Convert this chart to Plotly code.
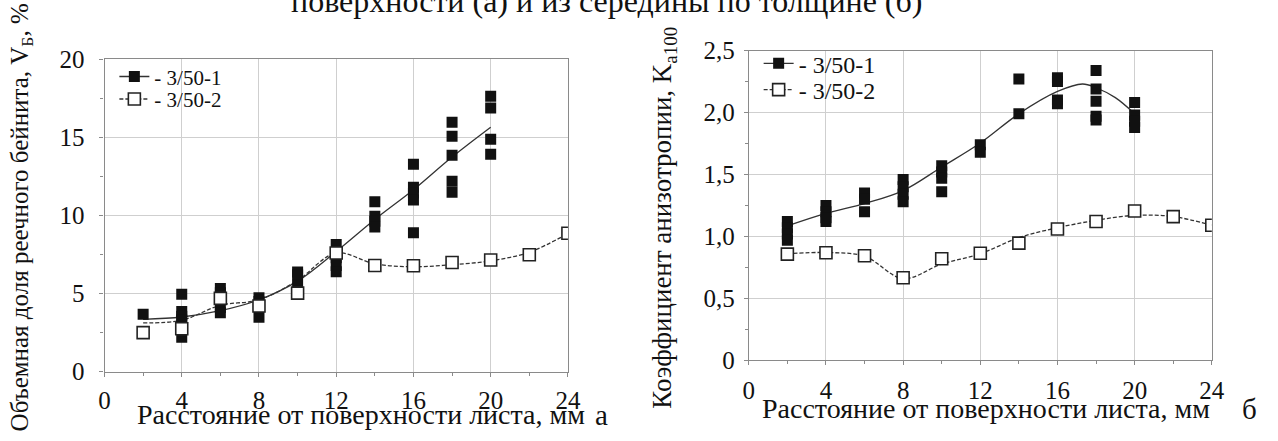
import plotly.graph_objects as go

W, H = 1278, 441
SERIF = "Liberation Serif"

# ---------- panel (а): bainite volume fraction ----------
a_x1 = [2, 4, 4, 4, 4, 4, 6, 6, 6, 6, 8, 8, 8, 10, 10, 10,
        12, 12, 12, 12, 14, 14, 14, 14, 16, 16, 16, 16, 16,
        18, 18, 18, 18, 18, 20, 20, 20, 20]
a_y1 = [3.67, 4.96, 3.85, 3.55, 3.3, 2.2, 5.33, 5.05, 4.1, 3.77, 4.73, 4.5, 3.49,
        6.38, 6.2, 5.53, 8.14, 7.3, 6.8, 6.4, 10.89, 9.95, 9.64, 9.26,
        13.29, 11.81, 11.45, 10.99, 8.89, 15.98, 15.08, 13.86, 12.2, 11.5,
        17.65, 16.89, 14.89, 13.92]
a_x2 = [2, 4, 6, 8, 10, 12, 14, 16, 18, 20, 22, 24]
a_y2 = [2.5, 2.75, 4.69, 4.2, 5.03, 7.6, 6.8, 6.78, 6.99, 7.15, 7.49, 8.87]
# fitted curves
a_fit1_x = [2, 4, 6, 8, 10, 12, 14, 16, 18, 20]
a_fit1_y = [3.35, 3.5, 3.9, 4.6, 5.8, 7.7, 9.75, 11.65, 13.75, 15.66]
a_fit2_x = [2, 4, 6, 8, 10, 12, 14, 16, 18, 20, 22, 24]
a_fit2_y = [3.12, 3.29, 4.25, 4.6, 5.85, 7.6, 6.9, 6.72, 6.85, 7.1, 7.65, 8.85]

# ---------- panel (б): anisotropy coefficient ----------
b_x1 = [2, 2, 2, 2, 4, 4, 4, 4, 6, 6, 6, 8, 8, 8, 8, 10, 10, 10, 10,
        12, 12, 14, 14, 16, 16, 16, 16, 18, 18, 18, 18, 18, 20, 20, 20, 20]
b_y1 = [1.12, 1.07, 1.02, 0.97, 1.25, 1.2, 1.15, 1.12, 1.35, 1.3, 1.2,
        1.46, 1.4, 1.34, 1.28, 1.57, 1.52, 1.47, 1.36, 1.74, 1.68,
        2.27, 1.99, 2.28, 2.25, 2.10, 2.07, 2.34, 2.19, 2.09, 1.97, 1.94,
        2.08, 1.98, 1.93, 1.88]
b_x2 = [2, 4, 6, 8, 10, 12, 14, 16, 18, 20, 22, 24]
b_y2 = [0.857, 0.868, 0.844, 0.666, 0.82, 0.864, 0.946, 1.06, 1.12, 1.205, 1.16, 1.09]
b_fit1_x = [2, 4, 6, 8, 10, 12, 14, 16, 17.3, 18, 19, 20]
b_fit1_y = [1.085, 1.186, 1.265, 1.37, 1.56, 1.754, 1.99, 2.17, 2.23, 2.2, 2.12, 1.99]
b_fit2_x = [2, 4, 6, 8, 10, 12, 14, 16, 18, 20, 22, 24]
b_fit2_y = [0.86, 0.87, 0.84, 0.66, 0.777, 0.86, 0.99, 1.07, 1.13, 1.17, 1.16, 1.09]

x_ticks = [0, 4, 8, 12, 16, 20, 24]
a_yticks = [0, 5, 10, 15, 20]
b_yticks = [0, 0.5, 1.0, 1.5, 2.0, 2.5]
b_yticklabels = ["0", "0,5", "1,0", "1,5", "2,0", "2,5"]
legend_names = ["- 3/50-1", "- 3/50-2"]


def px(x):
    return x / W


def py(y):
    return 1 - y / H


FILL = "#111111"
LINE = "#333333"
INK = "#111111"
sq_filled = dict(symbol="square", size=11, color=FILL, line=dict(width=0))
sq_open = dict(symbol="square", size=12, color="white", line=dict(width=1.6, color="#222222"))

fig = go.Figure()


def add_panel(xa, ya, legends, x1, y1, x2, y2, f1x, f1y, f2x, f2y):
    ax = dict(xaxis=xa, yaxis=ya)
    fig.add_trace(go.Scatter(x=f1x, y=f1y, mode="lines", line=dict(color=LINE, width=1.3, shape="spline"),
                             showlegend=False, hoverinfo="skip", **ax))
    fig.add_trace(go.Scatter(x=f2x, y=f2y, mode="lines",
                             line=dict(color=LINE, width=1.3, shape="spline", dash="4px,2px"),
                             showlegend=False, hoverinfo="skip", **ax))
    fig.add_trace(go.Scatter(x=x1, y=y1, mode="markers", marker=sq_filled, showlegend=False, **ax))
    fig.add_trace(go.Scatter(x=x2, y=y2, mode="markers", marker=sq_open, showlegend=False, **ax))
    # legend entries, one legend box per row for tight spacing
    fig.add_trace(go.Scatter(x=[None], y=[None], mode="lines+markers", name=legend_names[0],
                             line=dict(color=LINE, width=1.3), marker=sq_filled, legend=legends[0], **ax))
    fig.add_trace(go.Scatter(x=[None], y=[None], mode="lines+markers", name=legend_names[1],
                             line=dict(color=LINE, width=1.3, dash="4px,2px"),
                             marker=sq_open, legend=legends[1], **ax))


add_panel("x", "y", ("legend", "legend2"), a_x1, a_y1, a_x2, a_y2,
          a_fit1_x, a_fit1_y, a_fit2_x, a_fit2_y)
add_panel("x2", "y2", ("legend3", "legend4"), b_x1, b_y1, b_x2, b_y2,
          b_fit1_x, b_fit1_y, b_fit2_x, b_fit2_y)

common = dict(showline=True, linecolor="#8a8a8a", linewidth=1.2, mirror=True,
              showgrid=True, gridcolor="#cfcfcf", gridwidth=1, zeroline=False,
              ticks="outside", ticklen=4, tickcolor="#8a8a8a",
              tickfont=dict(family=SERIF, size=25, color=INK))
minor_x = dict(dtick=2, ticks="outside", ticklen=3, tickcolor="#8a8a8a", showgrid=False)


def legend_box(xpix, ypix, size):
    return dict(x=px(xpix), y=py(ypix), xanchor="left", yanchor="middle", bgcolor="rgba(0,0,0,0)",
                font=dict(family=SERIF, size=size, color=INK), itemwidth=30, tracegroupgap=0)


fig.update_layout(
    width=W, height=H, autosize=False,
    margin=dict(l=0, r=0, t=0, b=0),
    paper_bgcolor="white", plot_bgcolor="white",
    font=dict(family=SERIF, size=22, color=INK),
    xaxis=dict(domain=[px(100), px(570.4)], range=[0, 24], tickvals=x_ticks, minor=minor_x,
               anchor="y", ticklabelstandoff=2, **common),
    yaxis=dict(domain=[py(382), py(49.5)], range=[0, 20], tickvals=a_yticks,
               minor=dict(dtick=2.5, ticks="outside", ticklen=3, tickcolor="#8a8a8a", showgrid=False),
               anchor="x", ticklabelstandoff=10, **common),
    xaxis2=dict(domain=[px(754), px(1224)], range=[0, 24], tickvals=x_ticks, minor=minor_x,
                anchor="y2", ticklabelstandoff=4, **common),
    yaxis2=dict(domain=[py(370), py(40)], range=[0, 2.5], tickvals=b_yticks, ticktext=b_yticklabels,
                minor=dict(dtick=0.25, ticks="outside", ticklen=3, tickcolor="#8a8a8a", showgrid=False),
                anchor="x2", ticklabelstandoff=4, **common),
    legend=legend_box(110, 68, 21),
    legend2=legend_box(110, 92, 21),
    legend3=legend_box(764, 54, 24),
    legend4=legend_box(764, 82, 24),
)

annos = [
    dict(text="Расстояние от поверхности листа, мм", x=px(360), y=py(428), size=28),
    dict(text="а", x=px(604), y=py(428), size=29),
    dict(text="Расстояние от поверхности листа, мм", x=px(995), y=py(421), size=28),
    dict(text="б", x=px(1262), y=py(422), size=29),
    dict(text="Объемная доля реечного бейнита, V<sub>Б</sub>, %", x=px(16), y=py(218),
         textangle=-90, size=25),
    dict(text="Коэффициент анизотропии, K<sub>a100</sub>", x=px(668), y=py(218),
         textangle=-90, size=27),
    dict(text="поверхности (а) и из середины по толщине (б)", x=px(610), y=py(9),
         yanchor="bottom", size=32),
]
for a in annos:
    size = a.pop("size")
    a.setdefault("xanchor", "center")
    a.setdefault("yanchor", "middle")
    fig.add_annotation(xref="paper", yref="paper", showarrow=False,
                       font=dict(family=SERIF, size=size, color=INK), **a)

fig.write_html("out.html")
